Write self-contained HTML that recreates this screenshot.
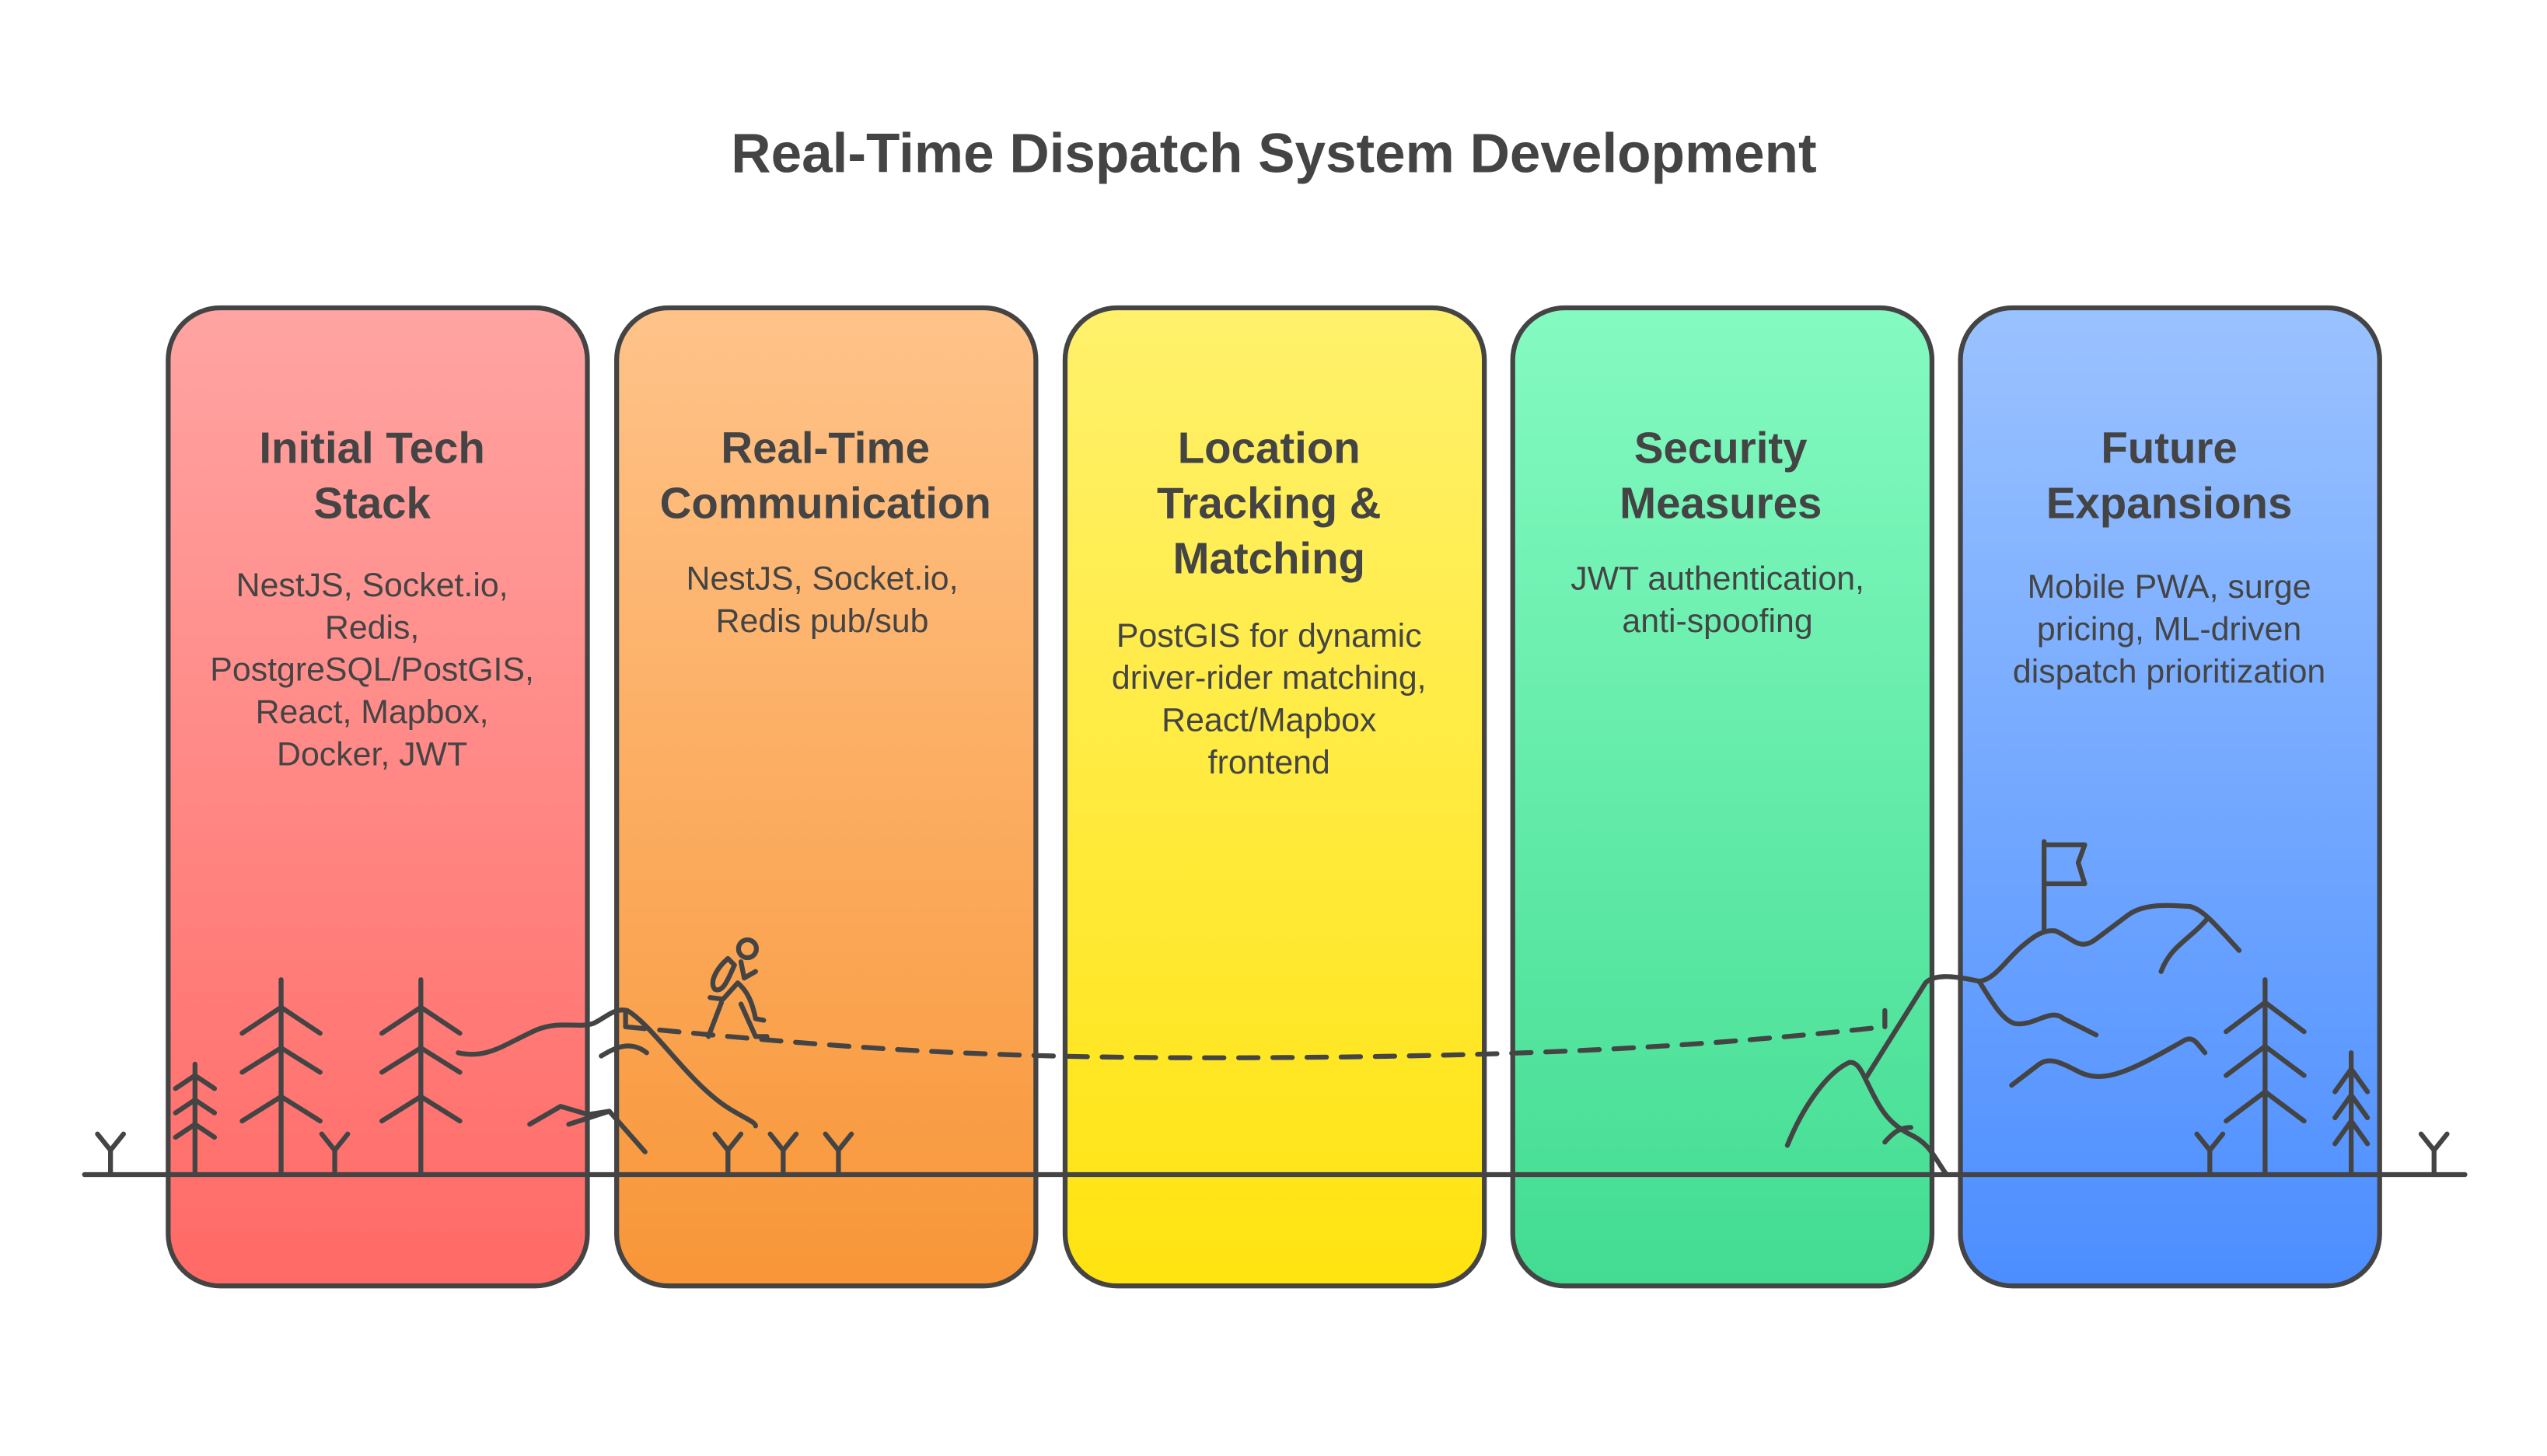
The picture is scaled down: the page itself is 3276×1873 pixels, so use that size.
<!DOCTYPE html>
<html><head><meta charset="utf-8"><style>
html,body{margin:0;padding:0;background:#fff;}
svg{display:block;}
text{font-family:"Liberation Sans",Arial,sans-serif;fill:#444;}
.t{font-weight:bold;font-size:27px;}
.b{font-size:20.5px;}
</style></head><body>
<svg width="3276" height="1873" viewBox="0 0 1567.5 896.2" xmlns="http://www.w3.org/2000/svg">
<defs>
<linearGradient id="g1" x1="0" y1="0" x2="0" y2="1"><stop offset="0" stop-color="#FFA4A2"/><stop offset="1" stop-color="#FF6A66"/></linearGradient>
<linearGradient id="g2" x1="0" y1="0" x2="0" y2="1"><stop offset="0" stop-color="#FFC389"/><stop offset="1" stop-color="#F89638"/></linearGradient>
<linearGradient id="g3" x1="0" y1="0" x2="0" y2="1"><stop offset="0" stop-color="#FFF16C"/><stop offset="1" stop-color="#FFE410"/></linearGradient>
<linearGradient id="g4" x1="0" y1="0" x2="0" y2="1"><stop offset="0" stop-color="#84FAC1"/><stop offset="1" stop-color="#42DC91"/></linearGradient>
<linearGradient id="g5" x1="0" y1="0" x2="0" y2="1"><stop offset="0" stop-color="#9AC2FF"/><stop offset="1" stop-color="#4C8EFF"/></linearGradient>
</defs>
<text x="784" y="106" text-anchor="middle" style="font-weight:bold;font-size:34px">Real-Time Dispatch System Development</text>
<g stroke="#444" stroke-width="3">
<rect x="103.5" y="189.5" width="258" height="602" rx="32" fill="url(#g1)"/>
<rect x="379.5" y="189.5" width="258" height="602" rx="32" fill="url(#g2)"/>
<rect x="655.5" y="189.5" width="258" height="602" rx="32" fill="url(#g3)"/>
<rect x="931" y="189.5" width="258" height="602" rx="32" fill="url(#g4)"/>
<rect x="1206.5" y="189.5" width="258" height="602" rx="32" fill="url(#g5)"/>
</g>
<g text-anchor="middle">
<text class="t" x="229" y="285">Initial Tech</text><text class="t" x="229" y="319">Stack</text>
<text class="b" x="229" y="367">NestJS, Socket.io,</text><text class="b" x="229" y="393">Redis,</text><text class="b" x="229" y="419">PostgreSQL/PostGIS,</text><text class="b" x="229" y="445">React, Mapbox,</text><text class="b" x="229" y="471">Docker, JWT</text>
<text class="t" x="508" y="285">Real-Time</text><text class="t" x="508" y="319">Communication</text>
<text class="b" x="506" y="363">NestJS, Socket.io,</text><text class="b" x="506" y="389">Redis pub/sub</text>
<text class="t" x="781" y="285">Location</text><text class="t" x="781" y="319">Tracking &amp;</text><text class="t" x="781" y="353">Matching</text>
<text class="b" x="781" y="398">PostGIS for dynamic</text><text class="b" x="781" y="424">driver-rider matching,</text><text class="b" x="781" y="450">React/Mapbox</text><text class="b" x="781" y="476">frontend</text>
<text class="t" x="1059" y="285">Security</text><text class="t" x="1059" y="319">Measures</text>
<text class="b" x="1057" y="363">JWT authentication,</text><text class="b" x="1057" y="389">anti-spoofing</text>
<text class="t" x="1335" y="285">Future</text><text class="t" x="1335" y="319">Expansions</text>
<text class="b" x="1335" y="368">Mobile PWA, surge</text><text class="b" x="1335" y="394">pricing, ML-driven</text><text class="b" x="1335" y="420">dispatch prioritization</text>
</g>
<g stroke="#444" stroke-width="3" fill="none" stroke-linecap="round" stroke-linejoin="round">
<line x1="52" y1="723" x2="1517" y2="723"/>
<path d="M68 723V708M60 698L68 708L76 698"/>
<path d="M206 723V708M198 698L206 708L214 698"/>
<path d="M448 723V708M440 698L448 708L456 698"/>
<path d="M482 723V708M474 698L482 708L490 698"/>
<path d="M516 723V708M508 698L516 708L524 698"/>
<path d="M1360 723V708M1352 698L1360 708L1368 698"/>
<path d="M1498 723V708M1490 698L1498 708L1506 698"/>
<path d="M120 723V655M108 670L120 662L132 670M108 685L120 677L132 685M108 700L120 692L132 700"/>
<path d="M173 723V603M149 636L173 620L197 636M149 660L173 645L197 660M149 690L173 675L197 690"/>
<path d="M259 723V603M235 636L259 620L283 636M235 660L259 645L283 660M235 690L259 675L283 690"/>
<path d="M282 648C300 652 310 643 330 634C345 628 355 633 365 630C372 627 378 620 386 622C400 630 420 660 440 676C452 686 465 690 465 693"/>
<path d="M370 650C378 645 388 640 398 648"/>
<path d="M326 692L345 681L362 686L375 684L397 709"/>
<path d="M350 692L375 684"/>
<path d="M385 622V632"/>
<path d="M385 632C520 645 600 652 780 651C950 650 1050 644 1160 632" stroke-dasharray="12 9"/>
<circle cx="460" cy="584" r="5.5"/>
<path d="M456 592L458 602L465 598"/>
<path d="M448 590C442 595 436 604 440 609C445 611 448 603 452 594Z"/>
<path d="M454 605L445 615L437 614M454 605C460 610 463 617 465 627L470 628"/>
<path d="M444 617L436 638"/>
<path d="M456 618L465 638L472 638"/>
<path d="M1160 622V632"/>
<path d="M1100 705C1110 680 1125 660 1138 654C1143 653 1146 660 1148 664C1156 680 1160 690 1175 698C1188 704 1190 712 1198 723"/>
<path d="M1148 664L1185 605C1190 600 1200 600 1218 604"/>
<path d="M1160 703C1166 696 1170 694 1176 694"/>
<path d="M1218 604C1228 603 1235 590 1245 582C1252 576 1258 572 1265 573C1275 577 1280 586 1290 578L1310 563C1320 556 1335 557 1348 558C1355 560 1360 565 1378 585"/>
<path d="M1358 566C1348 578 1336 582 1330 598"/>
<path d="M1258 573V518M1258 520H1283L1279 531L1283 544H1258"/>
<path d="M1218 604C1225 615 1232 628 1240 630C1252 632 1262 620 1270 627L1290 637"/>
<path d="M1238 668L1255 655C1262 650 1270 655 1280 660C1295 667 1310 660 1345 640C1350 638 1352 642 1357 648"/>
<path d="M1394 723V603M1370 635L1394 617L1418 635M1370 662L1394 644L1418 662M1370 690L1394 672L1418 690"/>
<path d="M1447 723V648M1437 672L1447 658L1457 672M1437 688L1447 674L1457 688M1437 704L1447 690L1457 704"/>
</g>
</svg>
</body></html>
